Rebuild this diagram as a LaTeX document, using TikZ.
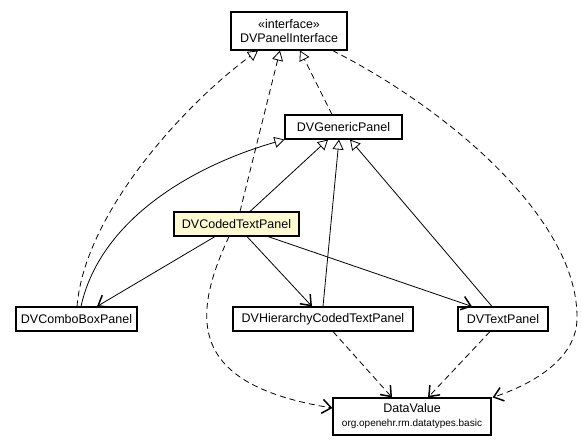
\documentclass[tikz,border=0pt]{standalone}
\usepackage{fontspec}
\setmainfont{Liberation Sans}
\usetikzlibrary{arrows.meta, positioning}
\definecolor{codedfill}{HTML}{FFFAD2}
\begin{document}
\begin{tikzpicture}[x=1pt, y=-1pt,
  cls/.style={draw, line width=1.1pt, fill=white, inner sep=0pt, minimum height=24pt, font=\fontsize{12.5}{14}\selectfont},
  inh/.style={line width=0.8pt, -{Triangle[open, length=10pt, width=11pt, line width=0.8pt]}},
  uses/.style={line width=0.8pt, -{Straight Barb[length=9pt, width=14pt, line width=1.5pt]}},
  dsh/.style={dash pattern=on 6pt off 4pt}]
\useasboundingbox (0,0) rectangle (582,445);
\node[cls, minimum width=116pt, minimum height=38pt, align=center] (Iface) at (289,31) {«interface»\\DVPanelInterface};
\node[cls, minimum width=117pt] (Generic) at (343.5,127) {DVGenericPanel};
\node[cls, minimum width=125pt, fill=codedfill] (Coded) at (236.5,224) {DVCodedTextPanel};
\node[cls, minimum width=121pt] (Combo) at (76.5,319) {DVComboBoxPanel};
\node[cls, minimum width=180pt] (Hier) at (323,319) {DVHierarchyCodedTextPanel};
\node[cls, minimum width=90pt] (Text) at (503,319) {DVTextPanel};
\node[cls, minimum width=158pt, minimum height=37pt, align=center] (DV) at (412,416.5) {DataValue\\{\fontsize{10}{12}\selectfont org.openehr.rm.datatypes.basic}};
\draw[inh, dsh] ([xshift=0.5pt]Combo.north) .. controls (85,210) and (190,100) .. ([xshift=-31pt]Iface.south);
\draw[inh] ([xshift=4.5pt]Combo.north) .. controls (100,220) and (192,166) .. (Generic.south west);
\draw[inh, dsh] ([xshift=3.5pt]Coded.north) -- ([xshift=-9pt]Iface.south);
\draw[inh] ([xshift=13.5pt]Coded.north) -- ([xshift=-15.5pt]Generic.south);
\draw[inh, dsh] ([xshift=-11.5pt]Generic.north) -- ([xshift=11pt]Iface.south);
\draw[inh] (Hier.north) -- ([xshift=-4.5pt]Generic.south);
\draw[inh] ([xshift=-11pt]Text.north) -- ([xshift=6.5pt]Generic.south);
\draw[uses, dsh] ([xshift=-15pt]Iface.south east) .. controls (450,110) and (578,220) .. (577,318) .. controls (577,360) and (530,385) .. ([xshift=1pt]DV.north east);
\draw[uses] ([xshift=-21.5pt]Coded.south) -- ([xshift=20.5pt]Combo.north);
\draw[uses] ([xshift=10.5pt]Coded.south) -- ([xshift=-11pt]Hier.north);
\draw[uses] ([xshift=31.5pt]Coded.south) -- ([xshift=-31pt]Text.north);
\draw[uses, dsh] ([xshift=-7.5pt]Coded.south) .. controls (190,320) and (190,385) .. ([yshift=8.5pt]DV.west);
\draw[uses, dsh] ([xshift=10pt]Hier.south) -- ([xshift=-20pt]DV.north);
\draw[uses, dsh] ([xshift=-13pt]Text.south) -- ([xshift=16pt]DV.north);
\end{tikzpicture}
\end{document}
